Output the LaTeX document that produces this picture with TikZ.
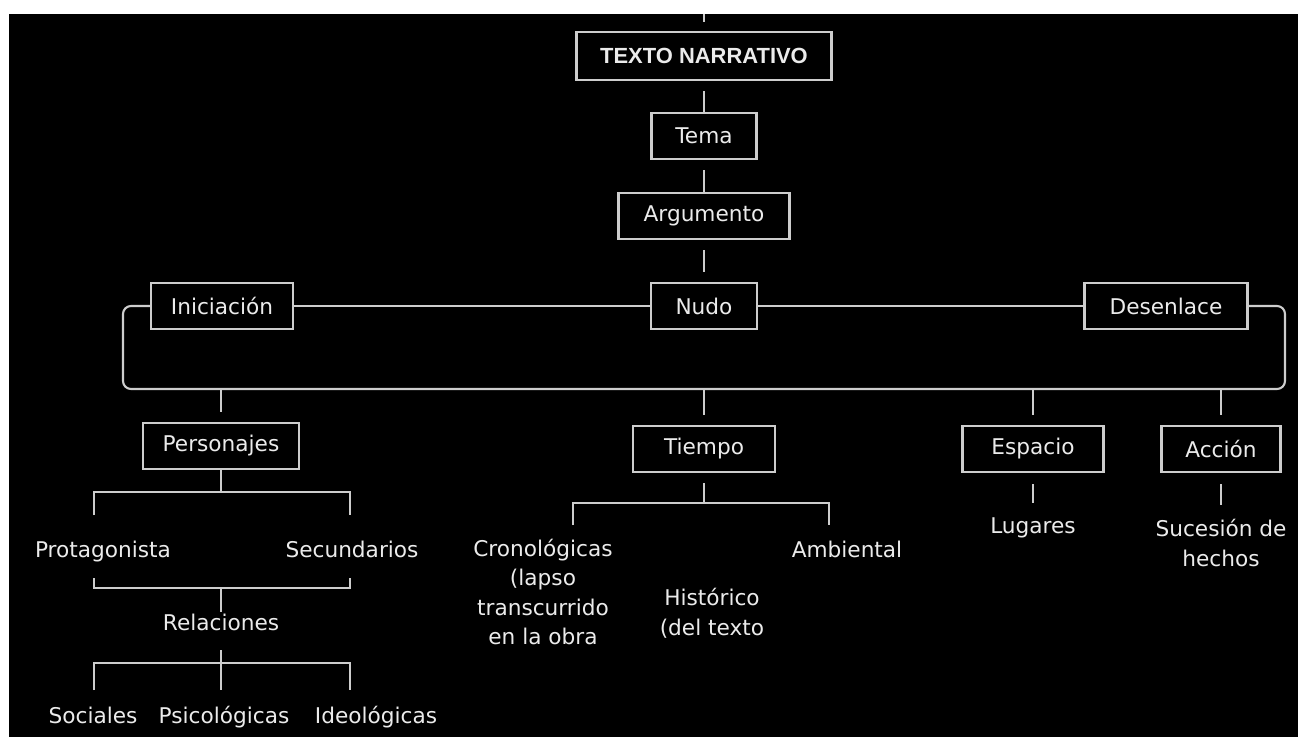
\documentclass[tikz,border=0pt]{standalone}
\usepackage{fontspec}
\setmainfont{DejaVu Sans}
\newfontfamily\titlefont{Liberation Sans}
\definecolor{lineGray}{RGB}{205, 205, 205}
\definecolor{textGray}{RGB}{235, 235, 235}

\begin{document}
\begin{tikzpicture}[
    x=0.025cm, y=-0.025cm,
    every node/.style={font=\fontsize{15.4}{21}\selectfont, text=textGray},
    caja/.style={rectangle, draw=lineGray, line width=1.6pt, minimum height=1.15cm,
                 inner sep=0pt},
    etiq/.style={inner sep=0pt, text height=0.4cm, text depth=0.125cm},
    bloque/.style={inner sep=0pt, align=center},
    conn/.style={draw=lineGray, line width=1.5pt},
    gap/.style={shorten <=0.25cm},
    gapend/.style={shorten >=0.25cm}
  ]
  % page and background
  \fill[white] (0,0) rectangle (1298,737);
  \fill[black] (9,14) rectangle (1298,737);
  \useasboundingbox (0,0) rectangle (1298,737);

  \node[caja, minimum width=6.375cm, minimum height=1.2cm,
        font=\titlefont\bfseries\fontsize{15.6}{18}\selectfont] (texto) at (704,56) {TEXTO NARRATIVO};
  \node[caja, minimum width=2.625cm] (tema) at (704,136) {Tema};
  \node[caja, minimum width=4.275cm] (arg) at (704,216) {Argumento};

  \node[caja, minimum width=3.55cm]  (ini)  at (222,306)  {Iniciación};
  \node[caja, minimum width=2.65cm]  (nudo) at (704,306)  {Nudo};
  \node[caja, minimum width=4.075cm] (des)  at (1166,306) {Desenlace};

  \node[caja, minimum width=3.9cm]   (pers)   at (221,446)  {Personajes};
  \node[caja, minimum width=3.55cm]  (tiempo) at (704,449)  {Tiempo};
  \node[caja, minimum width=3.525cm] (esp)    at (1033,449) {Espacio};
  \node[caja, minimum width=2.975cm] (acc)    at (1221,449) {Acción};

  \coordinate (arriba) at (704,14);
  \draw[conn, shorten >=0.225cm] (arriba) -- (texto.north);
  \draw[conn, gap] (texto.south) -- (tema.north);
  \draw[conn, gap] (tema.south) -- (arg.north);
  \draw[conn, gap, gapend] (arg.south) -- (nudo.north);
  \draw[conn] (ini) -- (nudo);
  \draw[conn] (nudo) -- (des);

  % bracket round the three parts
  \coordinate (esqizq) at (123,389);
  \coordinate (esqder) at (1285,389);
  \draw[conn, rounded corners=0.2cm] (ini.west) -| (esqizq) -- (esqder) |- (des.east);
  \draw[conn, gapend] (pers.north |- esqizq) -- (pers.north);
  \draw[conn, gapend] (tiempo.north |- esqizq) -- (tiempo.north);
  \draw[conn, gapend] (esp.north |- esqizq) -- (esp.north);
  \draw[conn, gapend] (acc.north |- esqizq) -- (acc.north);

  % Personajes
  \node[etiq] (prot) at (103,552) {Protagonista};
  \node[etiq] (sec)  at (352,552) {Secundarios};
  \coordinate (pbar) at (221,492);
  \coordinate (pizq) at (94,515);
  \coordinate (pder) at (350,515);
  \draw[conn] (pers.south) -- (pbar);
  \draw[conn] (pizq) |- (pbar) -| (pder);

  \node[etiq] (rel) at (221,625) {Relaciones};
  \coordinate (rizq) at (94,578);
  \coordinate (rbar) at (221,588);
  \coordinate (rder) at (350,578);
  \draw[conn] (rizq) |- (rbar) -| (rder);
  \draw[conn, shorten >=0.06cm] (rbar) -- (rel.north);

  \node[etiq] (soc)  at (93,718)  {Sociales};
  \node[etiq] (psi)  at (224,718) {Psicológicas};
  \node[etiq] (ideo) at (376,718) {Ideológicas};
  \coordinate (sbar) at (221,663);
  \coordinate (sizq) at (94,690);
  \coordinate (scen) at (221,690);
  \coordinate (sder) at (350,690);
  \draw[conn, shorten <=0.36cm] (rel.south) -- (scen);
  \draw[conn] (sizq) |- (sbar) -| (sder);

  % Tiempo
  \node[bloque] (crono) at (543,592) {Cronológicas\\(lapso\\transcurrido\\en la obra};
  \node[bloque] (hist)  at (712,613) {Histórico\\(del texto};
  \node[etiq]   (amb)   at (847,552) {Ambiental};
  \coordinate (tbar) at (704,503);
  \coordinate (tizq) at (573,525);
  \coordinate (tder) at (829,525);
  \draw[conn, gap] (tiempo.south) -- (tbar);
  \draw[conn] (tizq) |- (tbar) -| (tder);

  % Espacio and Acción
  \node[etiq]   (lug) at (1033,528) {Lugares};
  \node[bloque] (suc) at (1221,543) {Sucesión de\\hechos};
  \draw[conn, shorten <=0.275cm, shorten >=0.36cm] (esp.south) -- (lug.north);
  \draw[conn, shorten <=0.275cm, shorten >=0.36cm] (acc.south) -- (suc.north);
\end{tikzpicture}
\end{document}
